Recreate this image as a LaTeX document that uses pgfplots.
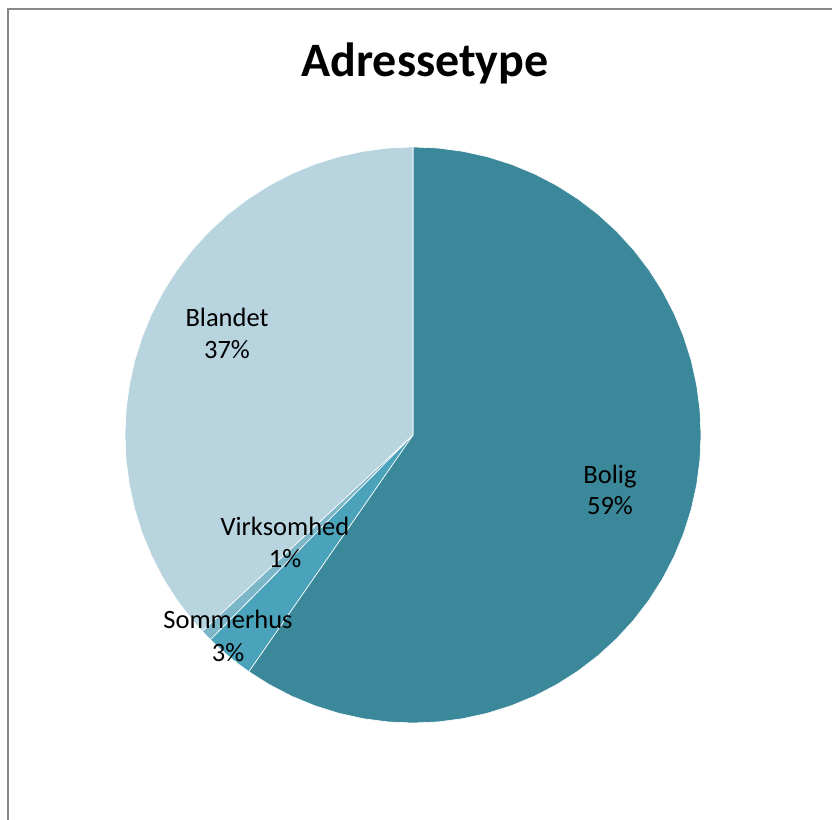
\documentclass[border=0pt]{standalone}
\usepackage{fontspec}
\setmainfont{Carlito}
\usepackage{pgfplots}
\pgfplotsset{compat=1.18}
\usepgfplotslibrary{polar}

\definecolor{bolig}{HTML}{3A8899}
\definecolor{sommerhus}{HTML}{4AA3BA}
\definecolor{virksomhed}{HTML}{7BB6C9}
\definecolor{blandet}{HTML}{B7D4DF}
\definecolor{ramme}{HTML}{878787}

\begin{document}
\begin{tikzpicture}[x=1bp,y=1bp]
\useasboundingbox (0,0) rectangle (832,820);
% ramme
\draw[ramme, line width=1.6bp] (8,0) -- (8,811) -- (832,811);

\begin{polaraxis}[
	at={(413bp,385bp)}, anchor=origin,
	width=576bp, height=576bp, scale only axis,
	ymin=0, ymax=1,
	hide axis,
	clip=false,
]
% Bolig 59%
\addplot[draw=white, line width=0.6bp, fill=bolig] coordinates {
(0,0) (90,1) (85,1) (80,1) (75,1) (70,1) (65,1) (60,1) (55,1) (50,1) (45,1)
(40,1) (35,1) (30,1) (25,1) (20,1) (15,1) (10,1) (5,1) (0,1) (-5,1)
(-10,1) (-15,1) (-20,1) (-25,1) (-30,1) (-35,1) (-40,1) (-45,1) (-50,1) (-55,1)
(-60,1) (-65,1) (-70,1) (-75,1) (-80,1) (-85,1) (-90,1) (-95,1) (-100,1) (-105,1)
(-110,1) (-115,1) (-120,1) (-124.75,1)} -- cycle;
% Sommerhus 3%
\addplot[draw=white, line width=0.6bp, fill=sommerhus] coordinates {
(0,0) (-124.75,1) (-127,1) (-130,1) (-132,1) (-134.72,1)} -- cycle;
% Virksomhed 1%
\addplot[draw=white, line width=0.6bp, fill=virksomhed] coordinates {
(0,0) (-134.72,1) (-136,1) (-137.05,1)} -- cycle;
% Blandet 37%
\addplot[draw=white, line width=0.6bp, fill=blandet] coordinates {
(0,0) (-137.05,1) (-140,1) (-145,1) (-150,1) (-155,1) (-160,1) (-165,1) (-170,1)
(-175,1) (-180,1) (-185,1) (-190,1) (-195,1) (-200,1) (-205,1) (-210,1) (-215,1)
(-220,1) (-225,1) (-230,1) (-235,1) (-240,1) (-245,1) (-250,1) (-255,1) (-260,1)
(-265,1) (-270,1)} -- cycle;
\end{polaraxis}

% titel og etiketter
\node[anchor=base, font=\fontsize{48bp}{56bp}\selectfont\bfseries] at (425,743) {Adressetype};
\begin{scope}[every node/.style={anchor=base, font=\fontsize{26.5bp}{32bp}\selectfont}]
\node at (610,336) {Bolig};
\node at (610,305) {59\%};
\node at (227,493) {Blandet};
\node at (227,461) {37\%};
\node at (285,284) {Virksomhed};
\node at (285,252) {1\%};
\node at (228,191) {Sommerhus};
\node at (228,158) {3\%};
\end{scope}
\end{tikzpicture}
\end{document}
